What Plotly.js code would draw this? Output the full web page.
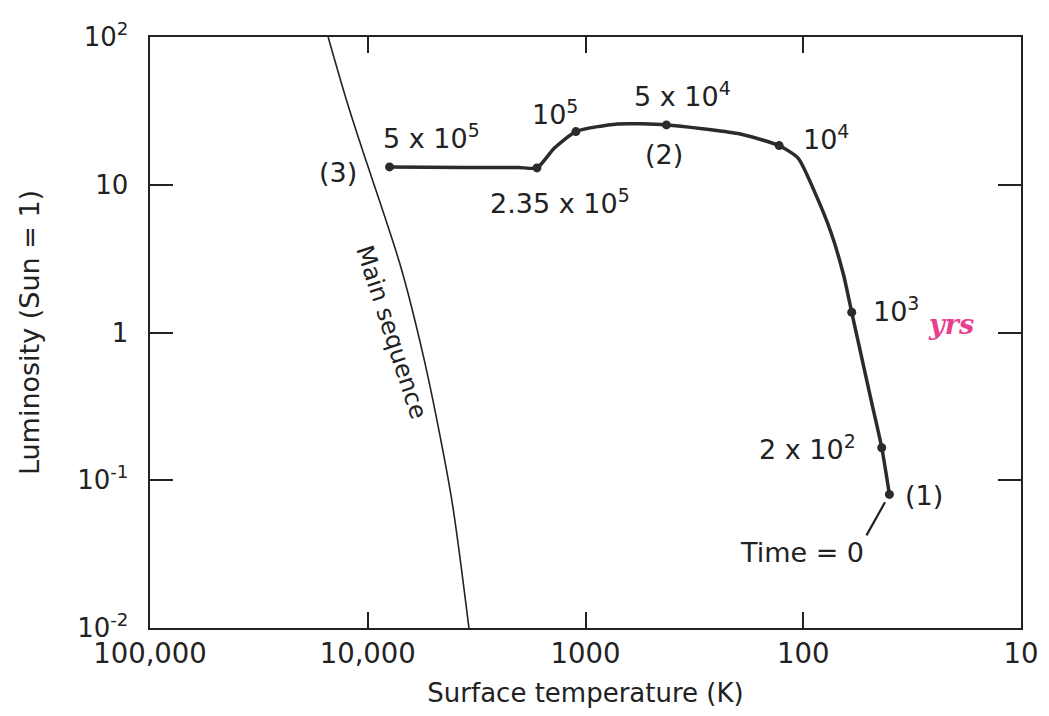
<!DOCTYPE html>
<html><head><meta charset="utf-8">
<script src="https://cdn.plot.ly/plotly-3.0.1.min.js"></script>
<style>html,body{margin:0;padding:0;background:#fff}#chart{width:1049px;height:716px}</style>
</head><body><div id="chart"></div>
<script>
// Evolutionary track (surface temperature K, luminosity Sun=1)
const trackT = [7940, 3640, 2030, 1671, 1396, 1107, 713, 425, 199, 129, 105.4, 88.7, 74.7, 65.2, 59.9, 53.3, 48.5, 43.6, 40.2];
const trackL = [13.2, 13.1, 13.1, 13.0, 17.6, 22.9, 25.8, 25.4, 22.2, 18.4, 15.1, 8.95, 4.79, 2.43, 1.37, 0.627, 0.335, 0.166, 0.0802];

// Marked stages on the track
const stageT = [7940, 1671, 1107, 425, 129, 59.9, 43.6, 40.2];
const stageL = [13.2, 13.0, 22.9, 25.4, 18.4, 1.37, 0.166, 0.0802];
const stageAge = ["5 x 10<sup>5</sup>", "2.35 x 10<sup>5</sup>", "10<sup>5</sup>", "5 x 10<sup>4</sup>", "10<sup>4</sup>", "10<sup>3</sup>", "2 x 10<sup>2</sup>", "Time = 0"];
const stageName = ["(3)", "", "", "(2)", "", "", "", "(1)"];

// Main sequence line
const msT = [15200, 12480, 10160, 8610, 6980, 5520, 4520, 4060, 3430];
const msL = [100, 36.8, 14.4, 6.95, 2.64, 0.665, 0.159, 0.0652, 0.01];

// Axis ticks
const xTickVals = [100000, 10000, 1000, 100, 10];
const xTickText = ["100,000", "10,000", "1000", "100", "10"];
const yTickVals = [0.01, 0.1, 1, 10, 100];
const yTickText = ["10<sup>-2</sup>", "10<sup>-1</sup>", "1", "10", "10<sup>2</sup>"];

const INK = '#222222';
const FONT = 'DejaVu Sans, Verdana, sans-serif';
const lg = Math.log10;

const traces = [
  {x: msT, y: msL, mode: 'lines', line: {color: INK, width: 1.6, shape: 'spline', smoothing: 1}, hoverinfo: 'skip'},
  {x: trackT, y: trackL, mode: 'lines', line: {color: '#2b2b2b', width: 3.5, shape: 'spline', smoothing: 0.6}, hoverinfo: 'skip'},
  {x: stageT, y: stageL, mode: 'markers', marker: {color: '#2b2b2b', size: 9}, hoverinfo: 'skip'}
];

// label offsets in px (x right, y up)
const ageShift = [[42, 30], [23, -34], [-21, 19], [16, 30], [47, 8], [44, 3], [-74, 0]];
const nameShift = {0: [-52, -6], 3: [-2, -30], 7: [35, -1]};

const annotations = [];
for (let i = 0; i < stageT.length; i++) {
  const base = {x: lg(stageT[i]), y: lg(stageL[i]), xref: 'x', yref: 'y', font: {family: FONT, size: 27, color: INK}};
  if (i < ageShift.length) {
    annotations.push(Object.assign({}, base, {text: stageAge[i], showarrow: false, xshift: ageShift[i][0], yshift: ageShift[i][1]}));
  } else {
    annotations.push(Object.assign({}, base, {text: stageAge[i], showarrow: true, arrowhead: 0, arrowwidth: 2.2, arrowcolor: INK,
      ax: -23, ay: 41, xanchor: 'right', yanchor: 'top', standoff: 9}));
  }
  if (stageName[i]) {
    annotations.push(Object.assign({}, base, {text: stageName[i], showarrow: false, xshift: nameShift[i][0], yshift: nameShift[i][1]}));
  }
}
// handwritten "yrs" next to 10^3
annotations.push({x: lg(stageT[5]), y: lg(stageL[5]), xref: 'x', yref: 'y', text: '<i>yrs</i>', showarrow: false,
  xshift: 99, yshift: -12, font: {family: 'DejaVu Serif, serif', size: 27, color: '#e8408f', weight: 'bold'}});
// Main sequence label
annotations.push({x: lg(msT[5]), y: lg(msL[5]), xref: 'x', yref: 'y', text: 'Main sequence', showarrow: false,
  textangle: 72, xshift: -32, yshift: 26, font: {family: FONT, size: 24, color: INK}});

const layout = {
  width: 1049, height: 716,
  margin: {l: 150, r: 28, t: 37, b: 88},
  paper_bgcolor: '#fff', plot_bgcolor: '#fff',
  showlegend: false,
  font: {family: FONT, color: INK},
  xaxis: {
    type: 'log', range: [5, 1], tickvals: xTickVals, ticktext: xTickText,
    ticks: 'inside', ticklen: 16, tickwidth: 2, tickcolor: INK,
    showline: true, linewidth: 2.4, linecolor: INK, mirror: 'ticks',
    showgrid: false, zeroline: false, ticklabelstandoff: 0,
    tickfont: {family: FONT, size: 27.5, color: INK},
    title: {text: 'Surface temperature (K)', font: {family: FONT, size: 26, color: INK}, standoff: 16}
  },
  yaxis: {
    type: 'log', range: [-2, 2], tickvals: yTickVals, ticktext: yTickText,
    ticks: 'inside', ticklen: 23, tickwidth: 2, tickcolor: INK,
    showline: true, linewidth: 2.4, linecolor: INK, mirror: 'ticks',
    showgrid: false, zeroline: false, ticklabelstandoff: 14,
    tickfont: {family: FONT, size: 26, color: INK},
    title: {text: 'Luminosity (Sun = 1)', font: {family: FONT, size: 27, color: INK}, standoff: 30}
  },
  annotations: annotations
};

Plotly.newPlot('chart', traces, layout, {displayModeBar: false, staticPlot: true});
</script>
</body></html>
